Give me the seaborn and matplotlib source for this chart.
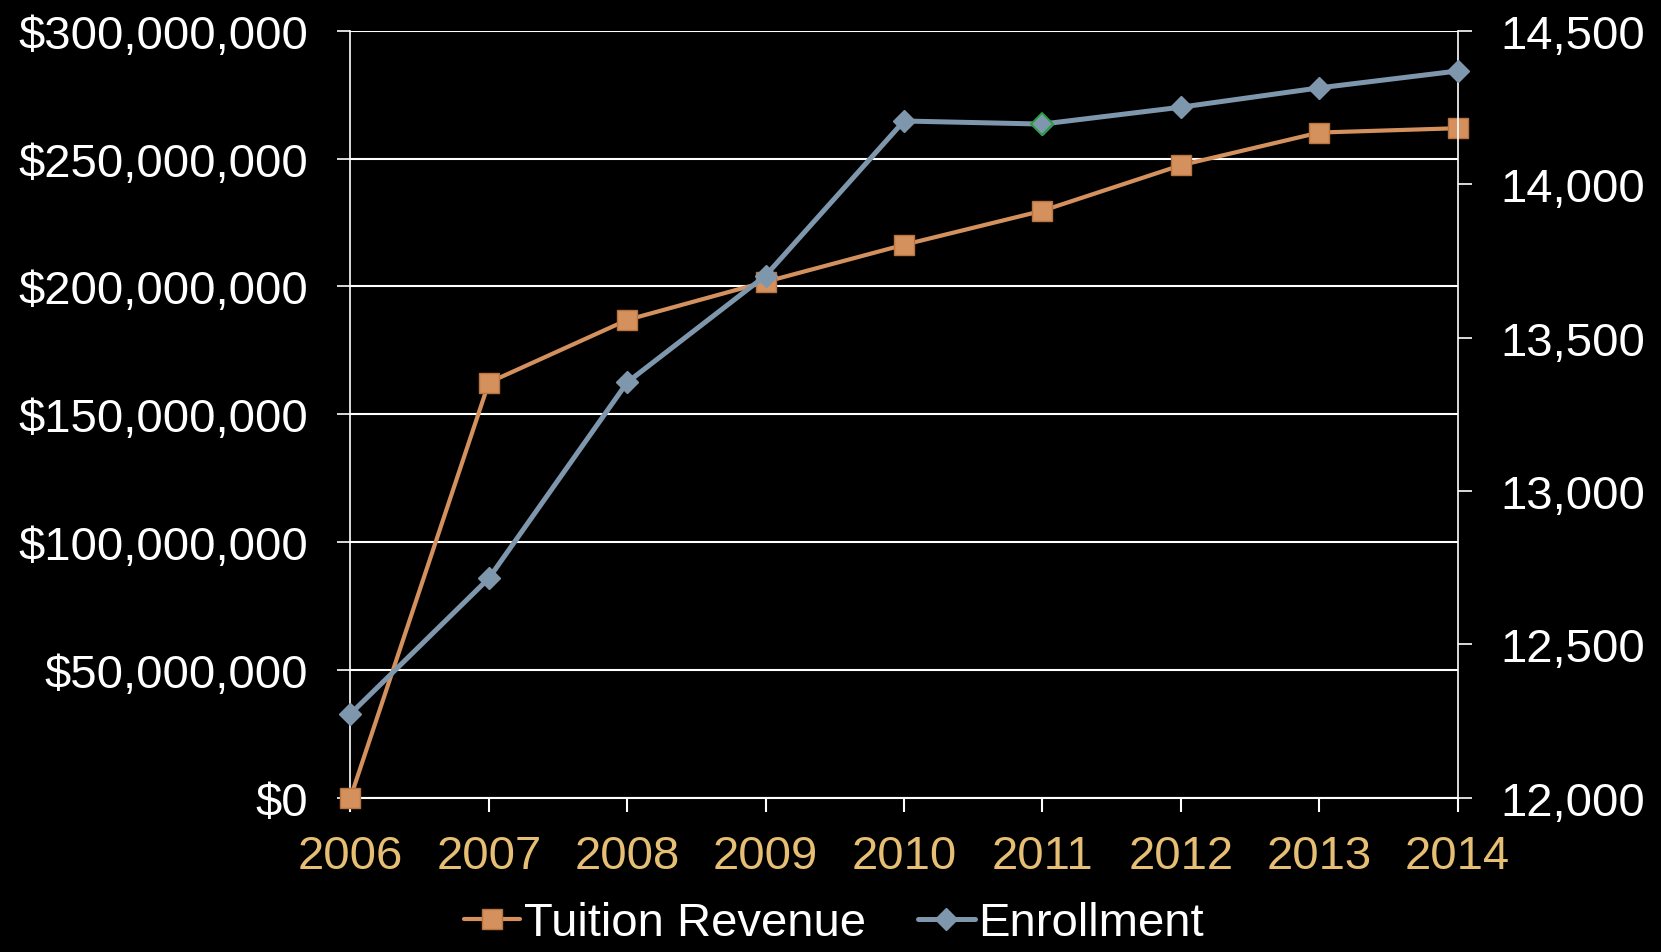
import numpy as np
import pandas as pd
import matplotlib
matplotlib.use("Agg")
import matplotlib.pyplot as plt
import seaborn as sns
from matplotlib.ticker import FuncFormatter, MultipleLocator

years = [2006, 2007, 2008, 2009, 2010, 2011, 2012, 2013, 2014]
tuition_revenue = [0, 162_400_000, 186_900_000, 201_800_000, 216_300_000,
                   229_600_000, 247_400_000, 260_200_000, 261_900_000]
enrollment = [12273, 12715, 13354, 13702, 14206, 14196, 14251, 14314, 14369]

df = pd.DataFrame({"Year": years, "Tuition Revenue": tuition_revenue,
                   "Enrollment": enrollment})

sns.set_theme(style="dark")
plt.rcParams["font.family"] = ["Liberation Sans", "DejaVu Sans"]

TUI = "#D4915E"
TUI_EDGE = "#B8743F"
ENR = "#7F97AD"
GOLD = "#E6BF74"
FS = 34

fig = plt.figure(figsize=(16.61, 9.53), dpi=100, facecolor="black")
ax = fig.add_axes([0.211, 0.162, 0.8775 - 0.211, 0.9666 - 0.162])
ax.set_facecolor("black")

sns.lineplot(data=df, x="Year", y="Tuition Revenue", ax=ax, color=TUI,
             linewidth=3, marker="s", markersize=14, markeredgecolor=TUI_EDGE,
             markeredgewidth=1, label="Tuition Revenue", clip_on=False, zorder=3)
ax2 = ax.twinx()
sns.lineplot(data=df, x="Year", y="Enrollment", ax=ax2, color=ENR,
             linewidth=3.6, marker="D", markersize=11.5, markeredgecolor=ENR,
             markeredgewidth=1, label="Enrollment", clip_on=False, zorder=3)
# highlighted point (2011) with green outline
ax2.plot([years[5]], [enrollment[5]], linestyle="none", marker="D", markersize=11.5,
         markerfacecolor=ENR, markeredgecolor="#1FA03A", markeredgewidth=1.3, zorder=4)

ax.set_xlim(2006, 2014)
ax.set_ylim(0, 300_000_000)
ax2.set_ylim(12000, 14500)
ax.set_xticks(years)
ax.yaxis.set_major_locator(MultipleLocator(50_000_000))
ax2.yaxis.set_major_locator(MultipleLocator(500))
ax.yaxis.set_major_formatter(FuncFormatter(lambda v, p: f"${v:,.0f}"))
ax2.yaxis.set_major_formatter(FuncFormatter(lambda v, p: f"{v:,.0f}"))

ax.grid(axis="y", color="white", linewidth=1.5)
ax.grid(axis="x", visible=False)
ax2.grid(False)
ax.set_xlabel("")
ax.set_ylabel("")
ax2.set_ylabel("")

ax2.set_facecolor("none")
for a in (ax, ax2):
    for s in a.spines.values():
        s.set_visible(False)
ax.spines["left"].set_visible(True)
ax.spines["left"].set_color("white")
ax.spines["left"].set_linewidth(1.2)
ax.spines["bottom"].set_visible(True)
ax.spines["bottom"].set_color("white")
ax.spines["bottom"].set_linewidth(1.5)
ax2.spines["right"].set_visible(True)
ax2.spines["right"].set_color("white")
ax2.spines["right"].set_linewidth(1.2)

ax.tick_params(axis="y", direction="out", length=9.5, width=1.2, color="white",
               labelcolor="white", labelsize=FS, pad=21, left=True)
ax.tick_params(axis="x", direction="out", length=10, width=1.5, color="white",
               labelcolor=GOLD, labelsize=FS, pad=16, bottom=True)
ax2.tick_params(axis="y", direction="out", length=10, width=1.2, color="white",
                labelcolor="white", labelsize=FS, pad=21, right=True)

h1, l1 = ax.get_legend_handles_labels()
h2, l2 = ax2.get_legend_handles_labels()
ax.get_legend().remove()
ax2.get_legend().remove()
leg = fig.legend(h1 + h2, l1 + l2, loc="center", bbox_to_anchor=(0.502, 0.03),
                 ncol=2, frameon=False, fontsize=FS, handlelength=1.2,
                 handletextpad=0.08, columnspacing=1.1, borderpad=0)
for t in leg.get_texts():
    t.set_color("white")

fig.savefig("out.png", dpi=100, facecolor="black")
